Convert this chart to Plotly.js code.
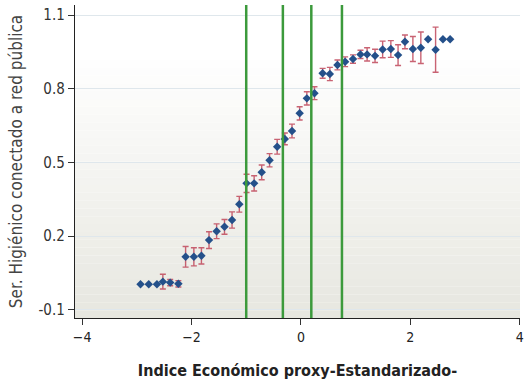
<!DOCTYPE html>
<html><head><meta charset="utf-8">
<script src="https://cdn.plot.ly/plotly-3.0.1.min.js"></script>
<style>html,body{margin:0;padding:0;background:#fff}#chart{width:525px;height:387px}</style>
</head><body><div id="chart"></div>
<script>
const indexX = [-2.932,-2.782,-2.632,-2.524,-2.390,-2.240,-2.108,-1.957,-1.819,-1.680,-1.541,-1.397,-1.259,-1.126,-0.994,-0.855,-0.717,-0.573,-0.434,-0.294,-0.163,-0.023,0.108,0.248,0.397,0.529,0.668,0.808,0.952,1.089,1.210,1.355,1.494,1.644,1.776,1.902,2.047,2.192,2.325,2.462,2.596,2.728];
const shareY = [0.004,0.004,0.004,0.015,0.011,0.006,0.116,0.116,0.120,0.184,0.220,0.238,0.266,0.330,0.415,0.415,0.460,0.509,0.564,0.596,0.628,0.700,0.761,0.782,0.863,0.860,0.897,0.910,0.921,0.940,0.940,0.934,0.960,0.962,0.937,0.991,0.962,0.967,1.002,0.959,1.002,1.002];
const errY = [0,0,0,0.030,0.013,0.013,0.042,0.037,0.033,0.034,0.030,0.030,0.033,0.032,0.037,0.031,0.030,0.027,0.030,0.024,0.028,0.027,0.027,0.026,0.020,0.027,0.020,0.020,0.017,0.017,0.027,0.027,0.034,0.034,0.042,0.028,0.051,0.064,0,0.092,0,0];
const cutoffs = [-1.0,-0.33,0.19,0.75];
const xTicks = [-4,-2,0,2,4];
const yTicks = [-0.1,0.2,0.5,0.8,1.1];
const yTickText = ['-0.1','0.2','0.5','0.8','1.1'];

const FONT = '"DejaVu Sans Condensed", "Liberation Sans Narrow", "Roboto", sans-serif';
const shapes = [];
const N = 40;
for (let i = 0; i < N; i++) {
  const t = i / (N - 1);
  const f = Math.max(0, (t - 0.15) / 0.85);
  const r = Math.round(255 - f * 24), g = Math.round(255 - f * 24), b = Math.round(255 - f * 31);
  shapes.push({type:'rect', xref:'paper', yref:'paper', x0:0, x1:1, y0:1 - (i+1)/N, y1:1 - i/N,
    fillcolor:`rgb(${r},${g},${b})`, line:{width:0}, layer:'below'});
}
cutoffs.forEach(c => shapes.push({type:'line', xref:'x', yref:'paper', x0:c, x1:c, y0:0, y1:1,
  line:{color:'#3c9a3c', width:2.5}, layer:'above'}));

const trace = {
  x: indexX, y: shareY, type:'scatter', mode:'markers',
  marker:{symbol:'diamond', size:6.5, color:'#24508a', line:{width:0}},
  error_y:{type:'data', array:errY, visible:true, color:'rgba(192,72,90,0.85)', thickness:1.4, width:3},
  hoverinfo:'skip'
};
const layout = {
  width:525, height:387,
  margin:{l:75, r:5, t:5, b:69},
  paper_bgcolor:'#ffffff', plot_bgcolor:'rgba(0,0,0,0)',
  showlegend:false,
  font:{family:FONT, color:'#333', size:14},
  shapes: shapes,
  xaxis:{range:[-4.13,4.005], tickvals:xTicks, ticks:'outside', ticklen:6, tickcolor:'#333',
    ticklabeloverflow:'allow',
    showgrid:false, zeroline:false, showline:true, linecolor:'#222', linewidth:1.2,
    tickfont:{family:FONT, size:14, color:'#222'},
    title:{text:'<b>Indice Económico proxy-Estandarizado-</b>', font:{family:FONT, size:16, color:'#222'}, standoff:20}},
  yaxis:{range:[-0.133,1.141], tickvals:yTicks, ticktext:yTickText, ticks:'outside', ticklen:6, tickcolor:'#333',
    showgrid:true, gridcolor:'#dfe7ec', gridwidth:1, zeroline:false, showline:true, linecolor:'#222', linewidth:1.2,
    tickfont:{family:FONT, size:15, color:'#333'},
    title:{text:'Ser. Higiénico conectado a red pública', font:{family:FONT, size:17, color:'#444'}, standoff:11}}
};
Plotly.newPlot('chart', [trace], layout, {staticPlot:true, displayModeBar:false});
</script></body></html>
